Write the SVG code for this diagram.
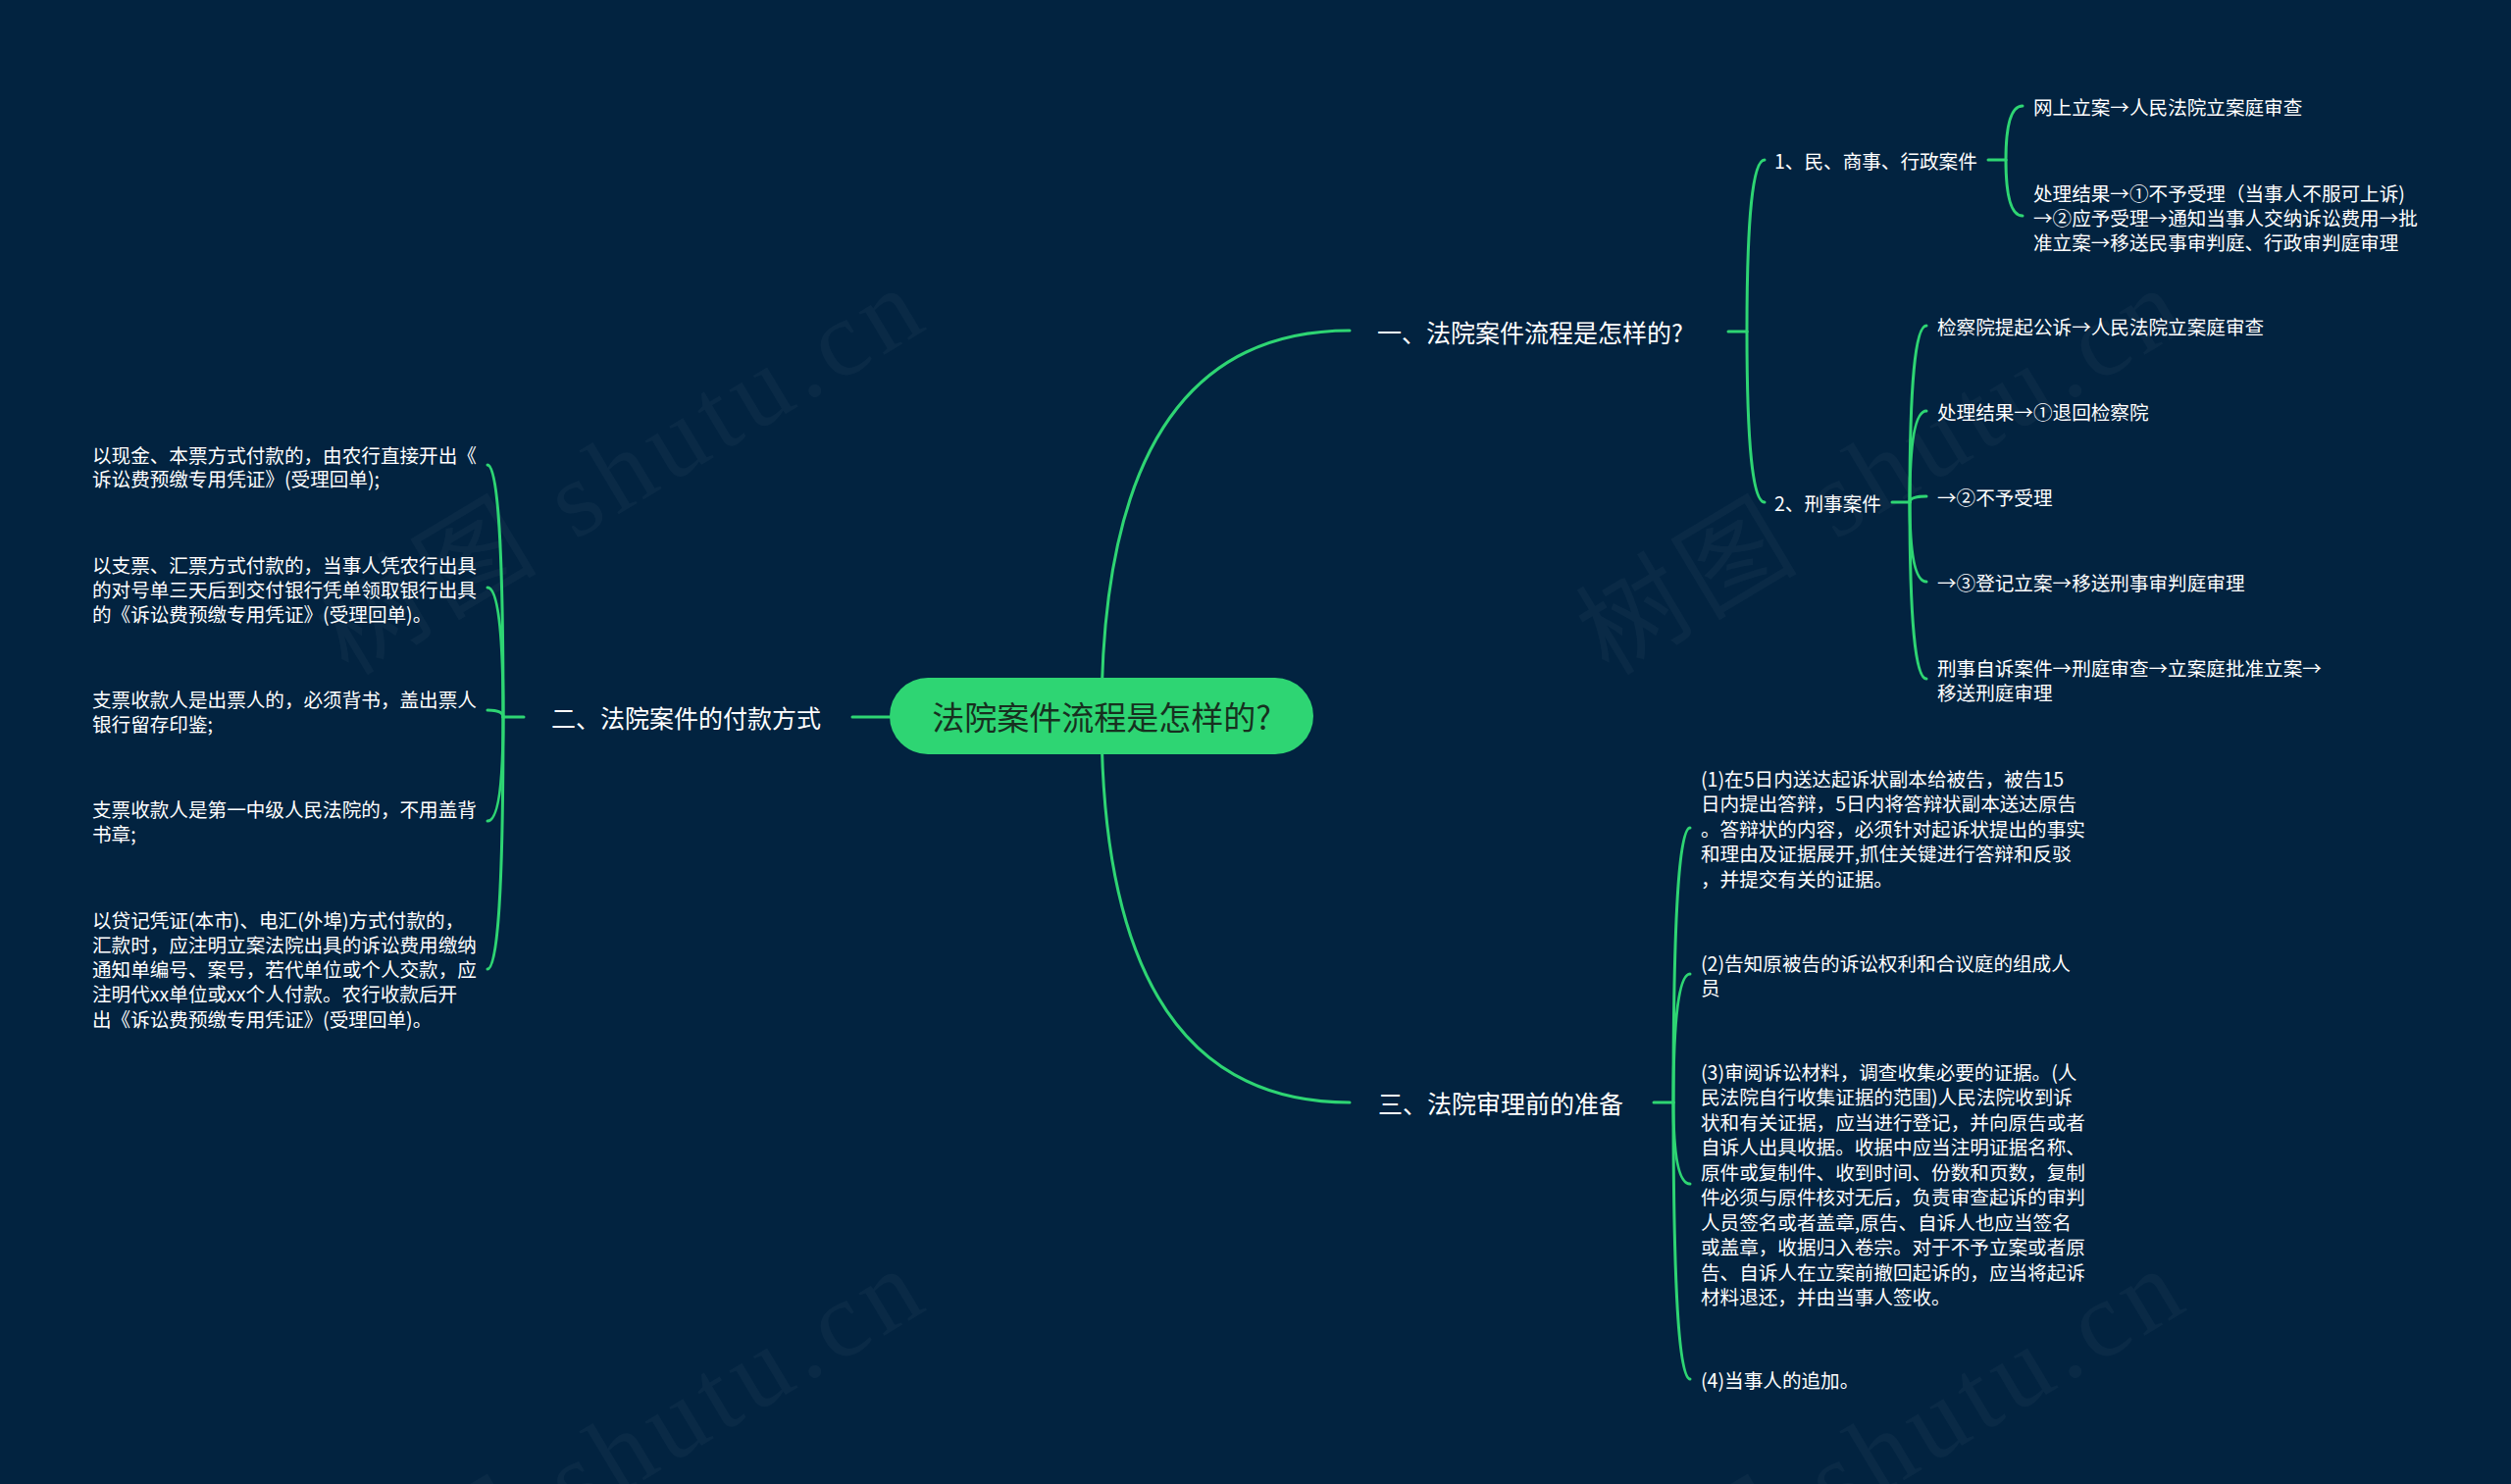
<svg xmlns="http://www.w3.org/2000/svg" width="2560" height="1513" viewBox="0 0 2560 1513">
<style>
.bg{fill:#022340}
.wm{font-family:"Liberation Serif","Noto Sans CJK SC",serif;font-size:110px;fill:#ffffff;fill-opacity:0.035}
.ln{fill:none;stroke:#2ed573;stroke-width:3;stroke-linecap:round}
.root{fill:#2ed573}
.rt{font-family:"Noto Sans CJK SC","Noto Sans",sans-serif;font-size:33px;fill:#17301f;dominant-baseline:central;text-anchor:middle}
.l2{font-family:"Noto Sans CJK SC","Noto Sans",sans-serif;font-size:25px;fill:#ffffff;dominant-baseline:central}
.l3{font-family:"Noto Sans CJK SC","Noto Sans",sans-serif;font-size:19.6px;fill:#ffffff;dominant-baseline:central}
</style>
<rect class="bg" x="0" y="0" width="2560" height="1513"/>
<g id="watermarks">
<text class="wm" transform="translate(355,690) rotate(-31)" textLength="690" lengthAdjust="spacing">树图 shutu.cn</text>
<text class="wm" transform="translate(1640,690) rotate(-31)" textLength="690" lengthAdjust="spacing">树图 shutu.cn</text>
<text class="wm" transform="translate(355,1690) rotate(-31)" textLength="690" lengthAdjust="spacing">树图 shutu.cn</text>
<text class="wm" transform="translate(1640,1690) rotate(-31)" textLength="690" lengthAdjust="spacing">树图 shutu.cn</text>
</g>
<g id="connectors">
<path class="ln" d="M1123,731 Q1123,337 1376,337"/>
<path class="ln" d="M1123,731 Q1123,1124 1376,1124"/>
<path class="ln" d="M907,731 L869,731"/>
<!-- 一 -->
<path class="ln" d="M1762,338 L1781,338"/>
<path class="ln" d="M1781,338 Q1781,163 1799,163"/>
<path class="ln" d="M1781,338 Q1781,512 1799,512"/>
<!-- 1、 -->
<path class="ln" d="M2027,163 L2045,163"/>
<path class="ln" d="M2045,163 Q2045,108 2062,108"/>
<path class="ln" d="M2045,163 Q2045,220 2062,220"/>
<!-- 2、 -->
<path class="ln" d="M1929,512 L1947,512"/>
<path class="ln" d="M1947,512 Q1947,332 1964,332"/>
<path class="ln" d="M1947,512 Q1947,419 1964,419"/>
<path class="ln" d="M1947,512 Q1947,506 1964,506"/>
<path class="ln" d="M1947,512 Q1947,593 1964,593"/>
<path class="ln" d="M1947,512 Q1947,692 1964,692"/>
<!-- 三 -->
<path class="ln" d="M1686,1124 L1706,1124"/>
<path class="ln" d="M1706,1124 Q1706,844 1723,844"/>
<path class="ln" d="M1706,1124 Q1706,993 1723,993"/>
<path class="ln" d="M1706,1124 Q1706,1207 1723,1207"/>
<path class="ln" d="M1706,1124 Q1706,1406 1723,1406"/>
<!-- 二 -->
<path class="ln" d="M534,731 L513,731"/>
<path class="ln" d="M513,731 Q513,474 497,474"/>
<path class="ln" d="M513,731 Q513,599 497,599"/>
<path class="ln" d="M513,731 Q513,724 497,724"/>
<path class="ln" d="M513,731 Q513,837 497,837"/>
<path class="ln" d="M513,731 Q513,988 497,988"/>
</g>
<g id="root">
<rect class="root" x="907" y="691" width="432" height="78" rx="39" ry="39"/>
<text class="rt" x="1123" y="730">法院案件流程是怎样的?</text>
</g>
<g id="n1">
<text class="l2" x="1404" y="338">一、法院案件流程是怎样的?</text>
</g>
<g id="n1-1">
<text class="l3" x="1809" y="163">1、民、商事、行政案件</text>
</g>
<g id="n1-1-1">
<text class="l3" x="2073" y="108">网上立案→人民法院立案庭审查</text>
</g>
<g id="n1-1-2">
<text class="l3" x="2073" y="196">处理结果→①不予受理（当事人不服可上诉)</text>
<text class="l3" x="2073" y="221">→②应予受理→通知当事人交纳诉讼费用→批</text>
<text class="l3" x="2073" y="246">准立案→移送民事审判庭、行政审判庭审理</text>
</g>
<g id="n1-2">
<text class="l3" x="1809" y="512">2、刑事案件</text>
</g>
<g id="n1-2-1"><text class="l3" x="1975" y="332">检察院提起公诉→人民法院立案庭审查</text></g>
<g id="n1-2-2"><text class="l3" x="1975" y="419">处理结果→①退回检察院</text></g>
<g id="n1-2-3"><text class="l3" x="1975" y="506">→②不予受理</text></g>
<g id="n1-2-4"><text class="l3" x="1975" y="593">→③登记立案→移送刑事审判庭审理</text></g>
<g id="n1-2-5">
<text class="l3" x="1975" y="680">刑事自诉案件→刑庭审查→立案庭批准立案→</text>
<text class="l3" x="1975" y="705">移送刑庭审理</text>
</g>
<g id="n2">
<text class="l2" x="562" y="731">二、法院案件的付款方式</text>
</g>
<g id="n2-1">
<text class="l3" x="94" y="463">以现金、本票方式付款的，由农行直接开出《</text>
<text class="l3" x="94" y="487">诉讼费预缴专用凭证》(受理回单);</text>
</g>
<g id="n2-2">
<text class="l3" x="94" y="575">以支票、汇票方式付款的，当事人凭农行出具</text>
<text class="l3" x="94" y="600">的对号单三天后到交付银行凭单领取银行出具</text>
<text class="l3" x="94" y="625">的《诉讼费预缴专用凭证》(受理回单)。</text>
</g>
<g id="n2-3">
<text class="l3" x="94" y="712">支票收款人是出票人的，必须背书，盖出票人</text>
<text class="l3" x="94" y="737">银行留存印鉴;</text>
</g>
<g id="n2-4">
<text class="l3" x="94" y="824">支票收款人是第一中级人民法院的，不用盖背</text>
<text class="l3" x="94" y="849">书章;</text>
</g>
<g id="n2-5">
<text class="l3" x="94" y="937">以贷记凭证(本市)、电汇(外埠)方式付款的，</text>
<text class="l3" x="94" y="962">汇款时，应注明立案法院出具的诉讼费用缴纳</text>
<text class="l3" x="94" y="987">通知单编号、案号，若代单位或个人交款，应</text>
<text class="l3" x="94" y="1012">注明代xx单位或xx个人付款。农行收款后开</text>
<text class="l3" x="94" y="1038">出《诉讼费预缴专用凭证》(受理回单)。</text>
</g>
<g id="n3">
<text class="l2" x="1405" y="1124">三、法院审理前的准备</text>
</g>
<g id="n3-1">
<text class="l3" x="1734" y="793">(1)在5日内送达起诉状副本给被告，被告15</text>
<text class="l3" x="1734" y="818">日内提出答辩，5日内将答辩状副本送达原告</text>
<text class="l3" x="1734" y="844">。答辩状的内容，必须针对起诉状提出的事实</text>
<text class="l3" x="1734" y="869">和理由及证据展开,抓住关键进行答辩和反驳</text>
<text class="l3" x="1734" y="895">，并提交有关的证据。</text>
</g>
<g id="n3-2">
<text class="l3" x="1734" y="981">(2)告知原被告的诉讼权利和合议庭的组成人</text>
<text class="l3" x="1734" y="1006">员</text>
</g>
<g id="n3-3">
<text class="l3" x="1734" y="1092">(3)审阅诉讼材料，调查收集必要的证据。(人</text>
<text class="l3" x="1734" y="1117.5">民法院自行收集证据的范围)人民法院收到诉</text>
<text class="l3" x="1734" y="1143">状和有关证据，应当进行登记，并向原告或者</text>
<text class="l3" x="1734" y="1168.5">自诉人出具收据。收据中应当注明证据名称、</text>
<text class="l3" x="1734" y="1194">原件或复制件、收到时间、份数和页数，复制</text>
<text class="l3" x="1734" y="1219.5">件必须与原件核对无后，负责审查起诉的审判</text>
<text class="l3" x="1734" y="1245">人员签名或者盖章,原告、自诉人也应当签名</text>
<text class="l3" x="1734" y="1270.5">或盖章，收据归入卷宗。对于不予立案或者原</text>
<text class="l3" x="1734" y="1296">告、自诉人在立案前撤回起诉的，应当将起诉</text>
<text class="l3" x="1734" y="1321.5">材料退还，并由当事人签收。</text>
</g>
<g id="n3-4">
<text class="l3" x="1734" y="1406">(4)当事人的追加。</text>
</g>
</svg>
